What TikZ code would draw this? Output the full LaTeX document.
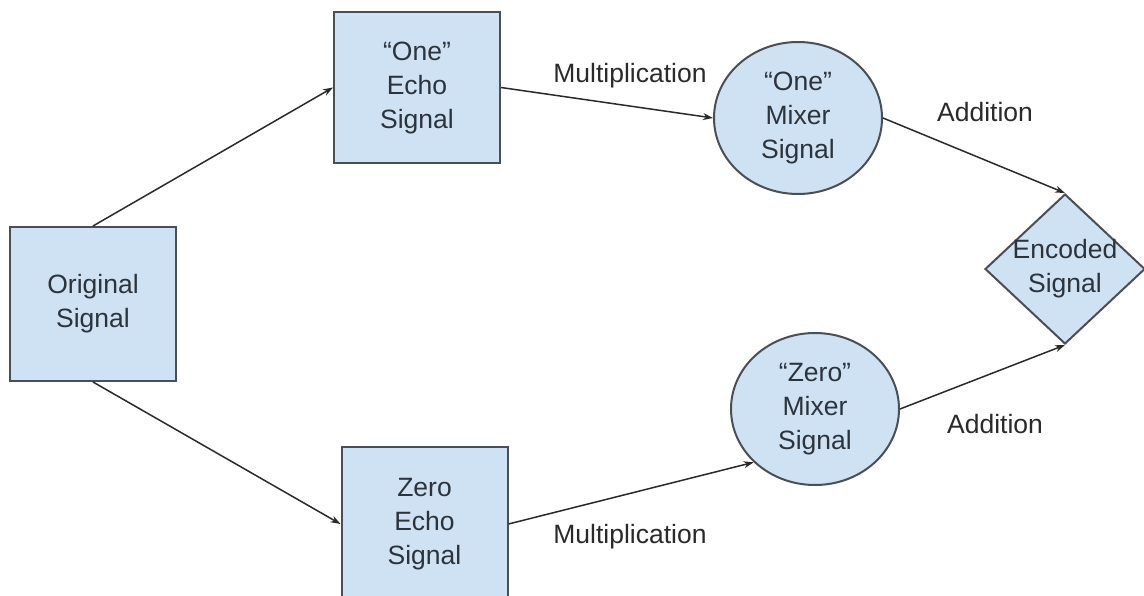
\documentclass[tikz,border=0pt]{standalone}
\usepackage{fontspec}
\setmainfont{Liberation Sans}
\usetikzlibrary{shapes.geometric,arrows.meta}
\definecolor{boxfill}{HTML}{CFE2F3}
\definecolor{boxline}{HTML}{4A4F55}
\definecolor{txt}{HTML}{2C333B}
\definecolor{arr}{HTML}{2A2A2A}
\begin{document}
\begin{tikzpicture}[x=1pt,y=-1pt,
  every node/.style={font=\fontsize{26.5}{34}\selectfont, text=txt},
  sq/.style={draw=boxline, fill=boxfill, line width=2pt, minimum width=166pt, minimum height=154pt, inner sep=0pt, align=center},
  mix/.style={ellipse, draw=boxline, fill=boxfill, line width=2pt, minimum width=168pt, minimum height=152pt, inner sep=0pt, align=center},
  dia/.style={diamond, draw=boxline, fill=boxfill, line width=2pt, minimum width=160pt, minimum height=150pt, inner sep=-4pt, align=center},
  conn/.style={draw=arr, line width=1.5pt, -{Stealth[length=10pt,width=7pt]}},
  lbl/.style={anchor=base, inner sep=0pt, text=arr}
]
\clip (0,0) rectangle (1144,596);
\fill[white] (0,0) rectangle (1144,596);

\node[sq] (orig) at (93,304) {Original\\Signal};
\node[sq, minimum height=151pt] (oneecho) at (417,87.5) {“One”\\Echo\\Signal};
\node[sq] (zeroecho) at (424.5,524) {Zero\\Echo\\Signal};
\node[mix] (onemix) at (798,118) {“One”\\Mixer\\Signal};
\node[mix] (zeromix) at (815,409) {“Zero”\\Mixer\\Signal};
\node[dia] (enc) at (1065,269) {Encoded\\Signal};

\draw[conn] (orig.north) -- (oneecho.west);
\draw[conn] (orig.south) -- (zeroecho.west);
\draw[conn] (oneecho.east) -- (onemix.west);
\draw[conn] (zeroecho.east) -- (zeromix.221);
\draw[conn] (onemix.east) -- (enc.north);
\draw[conn] (zeromix.east) -- (enc.south);

\node[lbl] (m1) at (630,83) {Multiplication};
\node[lbl] (m2) at (630,543) {Multiplication};
\node[lbl] (a1) at (985,122) {Addition};
\node[lbl] (a2) at (995,433) {Addition};
\end{tikzpicture}
\end{document}
